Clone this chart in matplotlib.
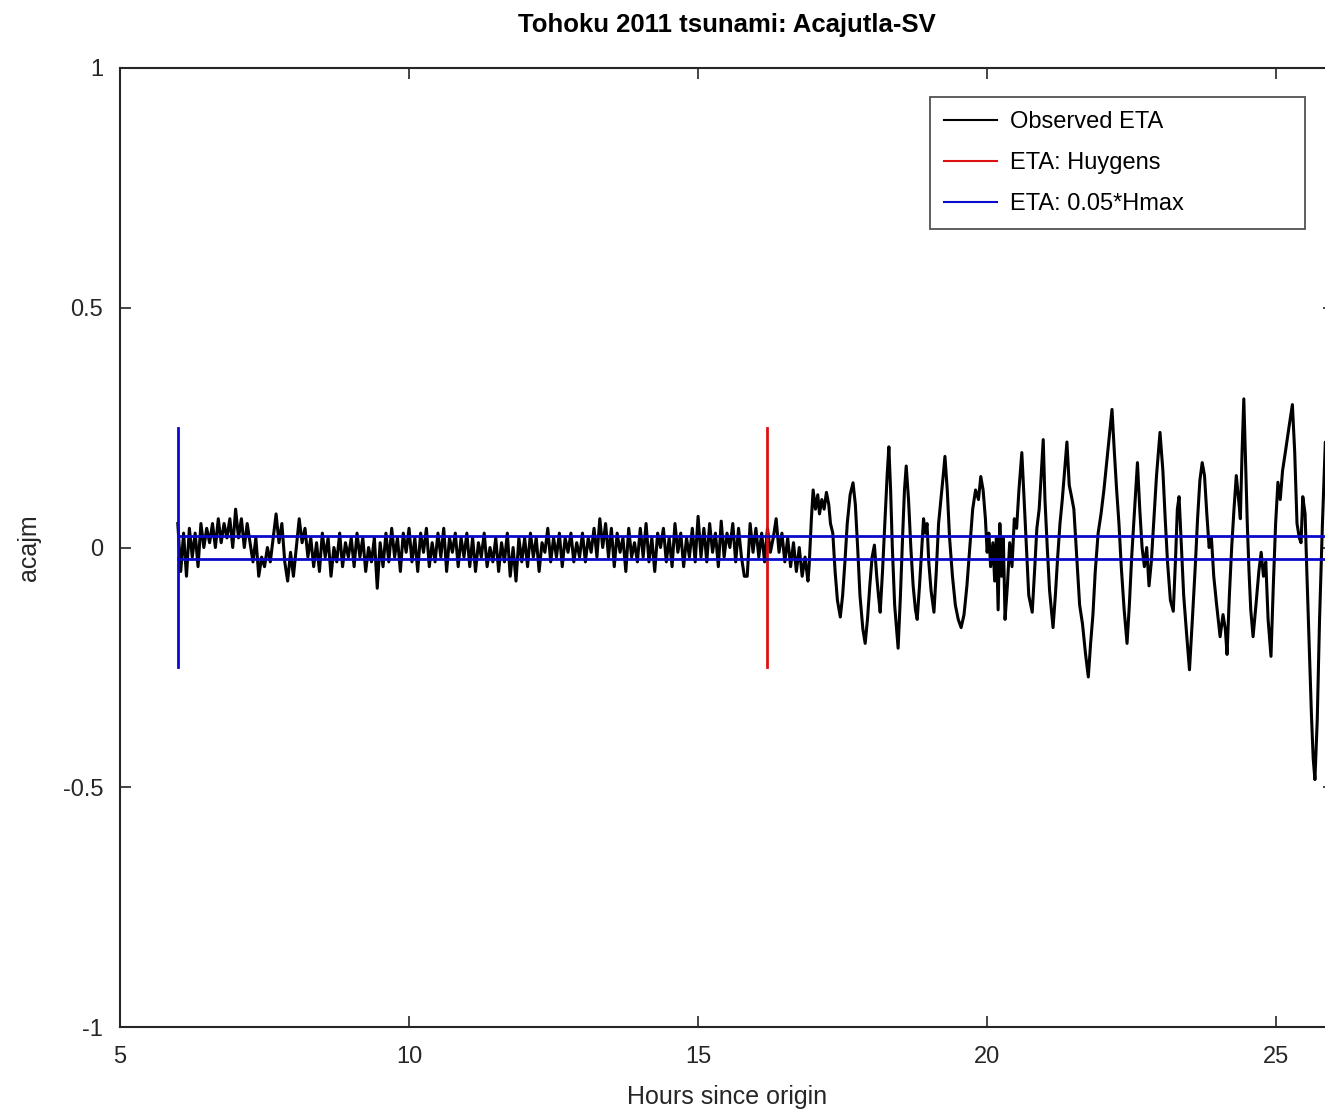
import numpy as np
import matplotlib
matplotlib.use("Agg")
import matplotlib.pyplot as plt

plt.rcParams["font.family"] = ["Liberation Sans", "DejaVu Sans"]

# --- data ------------------------------------------------------------------
# pre-arrival noise, sampled every 0.05 h starting at 6.0 h
noise_start = 6.0
noise_dt = 0.05
noise_eta = [
    # 6 h
    0.05, -0.05, 0.03, -0.06, 0.04, -0.02, 0.03, -0.04, 0.05, 0.0,
    0.04, 0.01, 0.05, 0.0, 0.06, 0.01, 0.05, 0.02, 0.06, 0.0,
    # 7 h
    0.08, 0.02, 0.06, 0.0, 0.05, 0.01, -0.03, 0.02, -0.06, -0.02,
    -0.04, 0.0, -0.03, 0.02, 0.07, 0.01, 0.05, -0.03, -0.07, -0.01,
    # 8 h
    -0.06, 0.0, 0.06, 0.01, 0.04, -0.02, 0.02, -0.04, 0.01, -0.05,
    0.03, -0.02, 0.02, -0.06, 0.0, -0.03, 0.03, -0.04, 0.01, -0.02,
    # 9 h
    0.02, -0.04, 0.03, -0.02, 0.02, -0.05, 0.0, -0.03, 0.02, -0.085,
    0.01, -0.04, 0.03, -0.03, 0.04, -0.02, 0.02, -0.05, 0.03, -0.01,
    # 10 h
    0.04, -0.03, 0.02, -0.05, 0.03, -0.01, 0.04, -0.04, 0.01, -0.03,
    0.03, -0.02, 0.04, -0.05, 0.02, -0.01, 0.03, -0.04, 0.02, -0.02,
    # 11 h
    0.03, -0.04, 0.02, -0.05, 0.01, -0.02, 0.03, -0.04, 0.0, -0.03,
    0.02, -0.05, 0.01, -0.03, 0.03, -0.06, 0.0, -0.07, 0.02, -0.03,
    # 12 h
    0.02, -0.04, 0.03, -0.02, 0.02, -0.05, 0.01, -0.01, 0.04, -0.03,
    0.02, -0.02, 0.03, -0.04, 0.02, -0.01, 0.03, -0.03, 0.01, -0.02,
    # 13 h
    0.03, -0.03, 0.02, -0.01, 0.04, -0.02, 0.06, 0.0, 0.05, -0.02,
    0.04, -0.04, 0.03, -0.01, 0.02, -0.05, 0.04, -0.02, 0.01, -0.03,
    # 14 h
    0.04, -0.02, 0.05, -0.03, 0.02, -0.05, 0.03, 0.0, 0.04, -0.03,
    0.02, -0.04, 0.05, -0.01, 0.03, -0.04, 0.02, -0.02, 0.04, -0.03,
    # 15 h
    0.065, -0.02, 0.04, -0.03, 0.05, -0.01, 0.03, -0.04, 0.055, -0.02,
    0.03, 0.0, 0.05, -0.03, 0.04, -0.02, -0.06, -0.06, 0.05, -0.01,
    # 16 h
    0.04, -0.02, 0.03, -0.03, 0.04, -0.01, 0.02, 0.06, -0.01, 0.03,
    -0.03, 0.02, -0.04, 0.01, -0.05, 0.0, -0.06, -0.02, -0.07,
]

# tsunami arrival and wave train (hours, metres)
wave_t = [
    16.92, 16.96, 16.99, 17.03, 17.07, 17.10, 17.14, 17.18, 17.22, 17.26,
    17.29, 17.33, 17.37, 17.41, 17.46, 17.50, 17.54, 17.58, 17.63, 17.68,
    17.72, 17.76, 17.80, 17.85, 17.89, 17.93, 17.97, 18.01, 18.05, 18.09,
    18.12, 18.15, 18.19, 18.23, 18.27, 18.30, 18.33, 18.36, 18.40, 18.46,
    18.50, 18.54, 18.57, 18.60, 18.64, 18.68, 18.72, 18.76, 18.79, 18.83,
    18.87, 18.90, 18.93, 18.96, 18.99, 19.03, 19.08, 19.12, 19.16, 19.20,
    19.24, 19.27, 19.31, 19.35, 19.40, 19.45, 19.50, 19.55, 19.60, 19.65,
    19.70, 19.75, 19.80, 19.85, 19.89, 19.93, 19.97, 20.00, 20.03, 20.06,
    20.10, 20.13, 20.16, 20.19, 20.22, 20.25, 20.28, 20.31, 20.35, 20.39,
    20.43, 20.47, 20.51, 20.55, 20.60, 20.64, 20.68, 20.72, 20.78, 20.82,
    20.86, 20.90, 20.93, 20.97, 21.00, 21.04, 21.08, 21.14, 21.18, 21.22,
    21.26, 21.30, 21.34, 21.38, 21.42, 21.46, 21.50, 21.55, 21.60, 21.65,
    21.70, 21.75, 21.79, 21.83, 21.87, 21.92, 21.97, 22.02, 22.07, 22.12,
    22.16, 22.20, 22.24, 22.28, 22.32, 22.37, 22.42, 22.46, 22.50, 22.55,
    22.60, 22.64, 22.68, 22.72, 22.76, 22.80, 22.84, 22.88, 22.93, 22.99,
    23.04, 23.08, 23.12, 23.17, 23.22, 23.26, 23.29, 23.32, 23.35, 23.40,
    23.45, 23.50, 23.55, 23.60, 23.64, 23.68, 23.72, 23.76, 23.80, 23.84,
    23.88, 23.92, 23.97, 24.03, 24.08, 24.12, 24.15, 24.19, 24.23, 24.27,
    24.31, 24.35, 24.38, 24.41, 24.44, 24.47, 24.50, 24.53, 24.56, 24.60,
    24.65, 24.70, 24.74, 24.78, 24.82, 24.86, 24.91, 24.95, 24.99, 25.03,
    25.07, 25.11, 25.16, 25.22, 25.28, 25.32, 25.36, 25.40, 25.43, 25.46,
    25.50, 25.53, 25.57, 25.61, 25.64, 25.67, 25.71, 25.75, 25.80, 25.85,
    25.90,
]
wave_eta = [
    -0.04, 0.06, 0.12, 0.08, 0.11, 0.07, 0.10, 0.08, 0.115, 0.09,
    0.05, 0.03, -0.05, -0.11, -0.145, -0.10, -0.03, 0.05, 0.11, 0.135,
    0.09, 0.00, -0.10, -0.17, -0.20, -0.15, -0.08, -0.02, 0.005, -0.06,
    -0.10, -0.135, -0.05, 0.05, 0.15, 0.21, 0.12, 0.00, -0.12, -0.21,
    -0.10, 0.03, 0.12, 0.17, 0.10, 0.00, -0.08, -0.13, -0.15, -0.08,
    0.00, 0.06, 0.03, 0.05, -0.03, -0.09, -0.135, -0.05, 0.05, 0.10,
    0.15, 0.19, 0.12, 0.02, -0.06, -0.12, -0.15, -0.167, -0.14, -0.08,
    0.00, 0.08, 0.12, 0.10, 0.148, 0.12, 0.06, -0.01, 0.03, -0.04,
    0.01, -0.07, 0.02, -0.13, 0.05, -0.06, 0.02, -0.15, -0.08, 0.01,
    -0.04, 0.06, 0.04, 0.12, 0.198, 0.10, 0.00, -0.10, -0.135, -0.05,
    0.04, 0.08, 0.14, 0.225, 0.10, 0.00, -0.09, -0.167, -0.10, -0.02,
    0.05, 0.10, 0.16, 0.22, 0.13, 0.106, 0.08, -0.02, -0.12, -0.16,
    -0.22, -0.27, -0.20, -0.14, -0.05, 0.03, 0.07, 0.12, 0.18, 0.24,
    0.288, 0.20, 0.12, 0.05, -0.04, -0.13, -0.20, -0.12, -0.02, 0.08,
    0.177, 0.08, 0.00, -0.04, 0.00, -0.08, -0.03, 0.05, 0.15, 0.24,
    0.16, 0.06, -0.03, -0.11, -0.133, -0.02, 0.08, 0.106, 0.03, -0.10,
    -0.18, -0.255, -0.15, -0.04, 0.06, 0.14, 0.177, 0.15, 0.07, 0.00,
    0.02, -0.06, -0.12, -0.186, -0.14, -0.17, -0.223, -0.10, 0.00, 0.08,
    0.15, 0.10, 0.06, 0.20, 0.31, 0.18, 0.05, -0.05, -0.13, -0.186,
    -0.12, -0.05, -0.01, -0.06, -0.03, -0.15, -0.227, -0.08, 0.05, 0.136,
    0.10, 0.16, 0.20, 0.25, 0.298, 0.20, 0.05, 0.02, 0.01, 0.106,
    0.07, -0.05, -0.20, -0.35, -0.44, -0.484, -0.36, -0.15, 0.05, 0.22,
    0.18,
]

eta_huygens = 16.19     # hours
eta_threshold = 6.0     # hours, first crossing of 0.05*Hmax band
band = 0.025            # 0.05*Hmax
marker_half = 0.25      # half-height of the vertical ETA markers

# ---------------------------------------------------------------------------
noise_t = noise_start + noise_dt * np.arange(len(noise_eta))
obs_t = np.concatenate([noise_t, wave_t])
obs_eta = np.concatenate([noise_eta, wave_eta])

fig = plt.figure(figsize=(13.25, 11.14), dpi=100)
ax = fig.add_axes([120 / 1325, 1 - 1027 / 1114, 1214 / 1325, 959 / 1114])

blue = "#0a0acc"
red = "#dd1111"
grey = "#262626"

ax.plot(obs_t, obs_eta, color="black", linewidth=2.2, label="Observed ETA")
ax.plot([eta_huygens, eta_huygens], [-marker_half, marker_half], color=red,
        linewidth=2.0, label="ETA: Huygens")
ax.plot([eta_threshold, eta_threshold], [-marker_half, marker_half], color=blue,
        linewidth=2.0, label="ETA: 0.05*Hmax")
ax.plot([eta_threshold, 26], [band, band], color=blue, linewidth=2.0)
ax.plot([eta_threshold, 26], [-band, -band], color=blue, linewidth=2.0)

ax.set_xlim(5, 26)
ax.set_ylim(-1, 1)
ax.set_xticks([5, 10, 15, 20, 25])
ax.set_xticklabels(["5", "10", "15", "20", "25"])
ax.set_yticks([-1, -0.5, 0, 0.5, 1])
ax.set_yticklabels(["-1", "-0.5", "0", "0.5", "1"])
ax.tick_params(direction="in", top=True, right=True, length=8, width=1.2,
               labelsize=17, colors=grey)
ax.tick_params(axis="x", pad=14)
ax.tick_params(axis="y", pad=12)
for spine in ax.spines.values():
    spine.set_color(grey)
    spine.set_linewidth(1.5)

ax.set_xlabel("Hours since origin", fontsize=18, color=grey, labelpad=12)
ax.set_ylabel("acajm", fontsize=18, color=grey, labelpad=16)
ax.set_title("Tohoku 2011 tsunami: Acajutla-SV", fontsize=18.5,
             fontweight="bold", pad=26)

leg = ax.legend(loc="upper left",
                bbox_to_anchor=(930 / 1325, 1 - 227 / 1114, 375 / 1325, 130 / 1114),
                bbox_transform=fig.transFigure, mode="expand",
                fontsize=17, frameon=True, fancybox=False, edgecolor=grey,
                handlelength=2.25, handletextpad=0.55, borderpad=0.6,
                labelspacing=0.8, borderaxespad=0)
leg.get_frame().set_linewidth(1.3)
for line in leg.get_lines():
    line.set_linewidth(1.5)

fig.savefig("out.png", dpi=100)
